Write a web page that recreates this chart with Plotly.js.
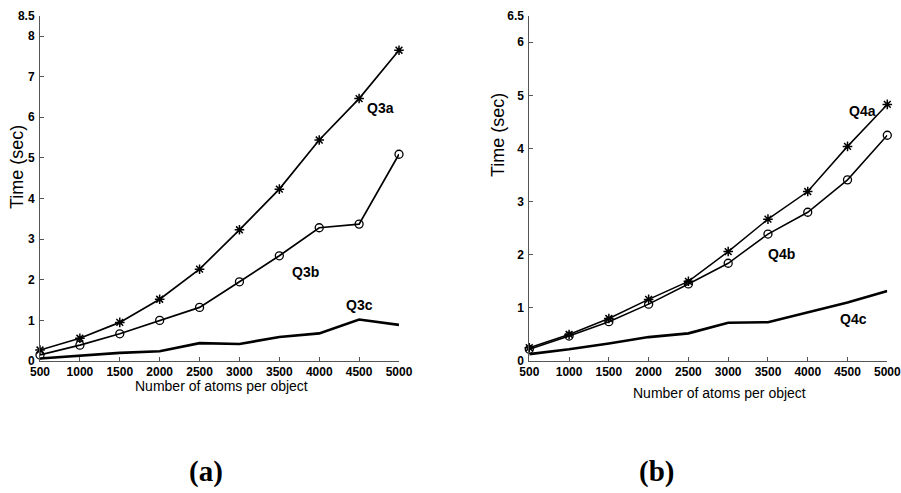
<!DOCTYPE html>
<html>
<head>
<meta charset="utf-8">
<script src="https://cdn.plot.ly/plotly-3.0.1.min.js"></script>
<style>
  html, body { margin: 0; padding: 0; background: #fff; }
  #chart { width: 901px; height: 493px; }
</style>
</head>
<body>
<div id="chart"></div>
<script>
// Number of atoms per object (shared x values)
const atoms = [500, 1000, 1500, 2000, 2500, 3000, 3500, 4000, 4500, 5000];

// Panel (a): query times in seconds
const q3a = [0.27, 0.56, 0.95, 1.52, 2.26, 3.23, 4.23, 5.44, 6.46, 7.65];
const q3b = [0.15, 0.39, 0.67, 1.00, 1.32, 1.95, 2.59, 3.28, 3.37, 5.09];
const q3c = [0.06, 0.13, 0.20, 0.24, 0.44, 0.42, 0.59, 0.68, 1.02, 0.89];

// Panel (b): query times in seconds
const q4a = [0.25, 0.50, 0.80, 1.16, 1.50, 2.06, 2.67, 3.19, 4.04, 4.83];
const q4b = [0.22, 0.47, 0.74, 1.07, 1.45, 1.84, 2.39, 2.80, 3.41, 4.25];
const q4c = [0.13, 0.22, 0.33, 0.45, 0.52, 0.72, 0.73, 0.92, 1.10, 1.32];

// Tick values
const xTicks = [500, 1000, 1500, 2000, 2500, 3000, 3500, 4000, 4500, 5000];
const yTicksA = [0, 1, 2, 3, 4, 5, 6, 7, 8, 8.5];
const yTicksB = [0, 1, 2, 3, 4, 5, 6, 6.5];

const W = 901, H = 493;
const px = v => v / W;
const py = v => 1 - v / H;

const starMarker = {symbol: 'asterisk-open', size: 8, color: '#000', line: {color: '#000', width: 1.5}};
const ringMarker = {symbol: 'circle-open', size: 8, color: '#000', line: {color: '#000', width: 1.3}};

function series(x, y, axes, width, marker) {
  const t = {
    x: x, y: y, xaxis: axes[0], yaxis: axes[1],
    type: 'scatter', mode: marker ? 'lines+markers' : 'lines',
    line: {color: '#000', width: width},
    cliponaxis: false, hoverinfo: 'skip', showlegend: false
  };
  if (marker) t.marker = marker;
  return t;
}

const data = [
  series(atoms, q3c, ['x', 'y'], 2.6, null),
  series(atoms, q3b, ['x', 'y'], 1.7, ringMarker),
  series(atoms, q3a, ['x', 'y'], 1.7, starMarker),
  series(atoms, q4c, ['x2', 'y2'], 2.6, null),
  series(atoms, q4b, ['x2', 'y2'], 1.5, ringMarker),
  series(atoms, q4a, ['x2', 'y2'], 1.5, starMarker)
];

const tickFont = {family: 'Liberation Sans, Arial, sans-serif', size: 12, color: '#000', weight: 'bold'};

function xAxis(domain, anchor) {
  return {
    domain: domain, anchor: anchor, range: [500, 5000],
    tickvals: xTicks, ticktext: xTicks.map(String),
    ticks: 'inside', ticklen: 4, tickcolor: '#555', tickwidth: 1,
    showline: true, linecolor: '#555', linewidth: 1, mirror: false,
    showgrid: false, zeroline: false, tickfont: tickFont,
    fixedrange: true
  };
}
function yAxis(domain, anchor, top, ticks) {
  return {
    domain: domain, anchor: anchor, range: [0, top],
    tickvals: ticks, ticktext: ticks.map(String),
    ticks: 'inside', ticklen: 4, tickcolor: '#555', tickwidth: 1,
    showline: true, linecolor: '#555', linewidth: 1, mirror: false,
    showgrid: false, zeroline: false, tickfont: tickFont,
    ticklabelstandoff: 2, fixedrange: true
  };
}

const yDom = [py(361), py(15.7)];

const labelFont = {family: 'Liberation Sans, Arial, sans-serif', size: 14, color: '#000', weight: 'bold'};
const axisTitleFont = {family: 'Liberation Sans, Arial, sans-serif', size: 14, color: '#000'};
const timeFont = {family: 'Liberation Sans, Arial, sans-serif', size: 18, color: '#000'};
const panelFont = {family: 'Liberation Serif, Times New Roman, serif', size: 29, color: '#000', weight: 'bold'};

function note(text, x, y, xref, yref, font, extra) {
  return Object.assign({
    text: text, x: x, y: y, xref: xref, yref: yref,
    xanchor: 'center', yanchor: 'middle', showarrow: false, font: font
  }, extra || {});
}

const annotations = [
  note('Q3a', 4762, 6.22, 'x', 'y', labelFont),
  note('Q3b', 3822, 2.18, 'x', 'y', labelFont),
  note('Q3c', 4511, 1.37, 'x', 'y', labelFont),
  note('Q4a', 4682, 4.70, 'x2', 'y2', labelFont),
  note('Q4b', 3664, 2.01, 'x2', 'y2', labelFont),
  note('Q4c', 4581, 0.79, 'x2', 'y2', labelFont),
  note('Number of atoms per object', px(221), py(386), 'paper', 'paper', axisTitleFont),
  note('Number of atoms per object', px(719), py(393), 'paper', 'paper', axisTitleFont),
  note('Time (sec)', px(17), py(167), 'paper', 'paper', timeFont, {textangle: -90}),
  note('Time (sec)', px(498), py(135), 'paper', 'paper', timeFont, {textangle: -90}),
  note('(a)', px(206), py(471), 'paper', 'paper', panelFont),
  note('(b)', px(656), py(471), 'paper', 'paper', panelFont)
];

const layout = {
  width: W, height: H,
  margin: {l: 0, r: 0, t: 0, b: 0},
  paper_bgcolor: '#fff', plot_bgcolor: '#fff',
  showlegend: false,
  xaxis: xAxis([px(40), px(399)], 'y'),
  yaxis: yAxis(yDom, 'x', 8.5, yTicksA),
  xaxis2: xAxis([px(529.3), px(887.3)], 'y2'),
  yaxis2: yAxis(yDom, 'x2', 6.5, yTicksB),
  annotations: annotations
};

Plotly.newPlot('chart', data, layout, {staticPlot: true, displayModeBar: false});
</script>
</body>
</html>
